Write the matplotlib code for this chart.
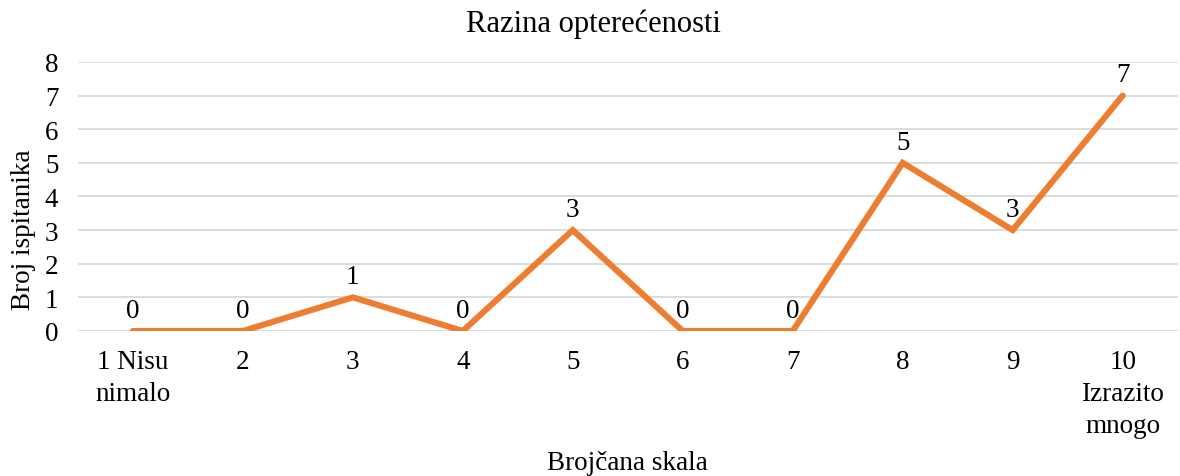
import matplotlib
matplotlib.use("Agg")
import matplotlib.pyplot as plt

categories = ["1 Nisu\nnimalo", "2", "3", "4", "5", "6", "7", "8", "9", "10\nIzrazito\nmnogo"]
values = [0, 0, 1, 0, 3, 0, 0, 5, 3, 7]
y_ticks = [0, 1, 2, 3, 4, 5, 6, 7, 8]

plt.rcParams["font.family"] = ["Liberation Serif", "DejaVu Serif"]

fig = plt.figure(figsize=(11.8, 4.77), dpi=100)
ax = fig.add_axes([0.066, 0.304, 0.932, 0.564])

x = list(range(len(categories)))
ax.plot(x, values, color="#ED7D31", lw=4.4, solid_joinstyle="miter", solid_capstyle="round", zorder=3)

for xi, v in zip(x, values):
    ax.annotate(str(v), (xi, v), xytext=(0, 6), textcoords="offset points",
                ha="center", va="bottom", fontsize=19.5, color="#000000")

ax.set_xlim(-0.5, len(categories) - 0.5)
ax.set_ylim(0, 8)
ax.set_yticks(y_ticks)
ax.set_xticks(x)
ax.set_xticklabels(categories, linespacing=1.38, va="top")
ax.tick_params(axis="both", length=0, labelsize=19.5, colors="#000000")
ax.tick_params(axis="x", pad=13)
ax.tick_params(axis="y", pad=14)
ax.grid(axis="y", color="#D9D9D9", lw=1.3)
for s in ax.spines.values():
    s.set_visible(False)
ax.set_axisbelow(True)

ax.set_title("Razina opterećenosti", fontsize=22, pad=22, x=0.469)
ax.set_xlabel("Brojčana skala", fontsize=19.5, labelpad=8)
ax.set_ylabel("Broj ispitanika", fontsize=19.5)
ax.yaxis.set_label_coords(-0.038, 0.38)

fig.savefig("out.png", dpi=100, facecolor="white")
